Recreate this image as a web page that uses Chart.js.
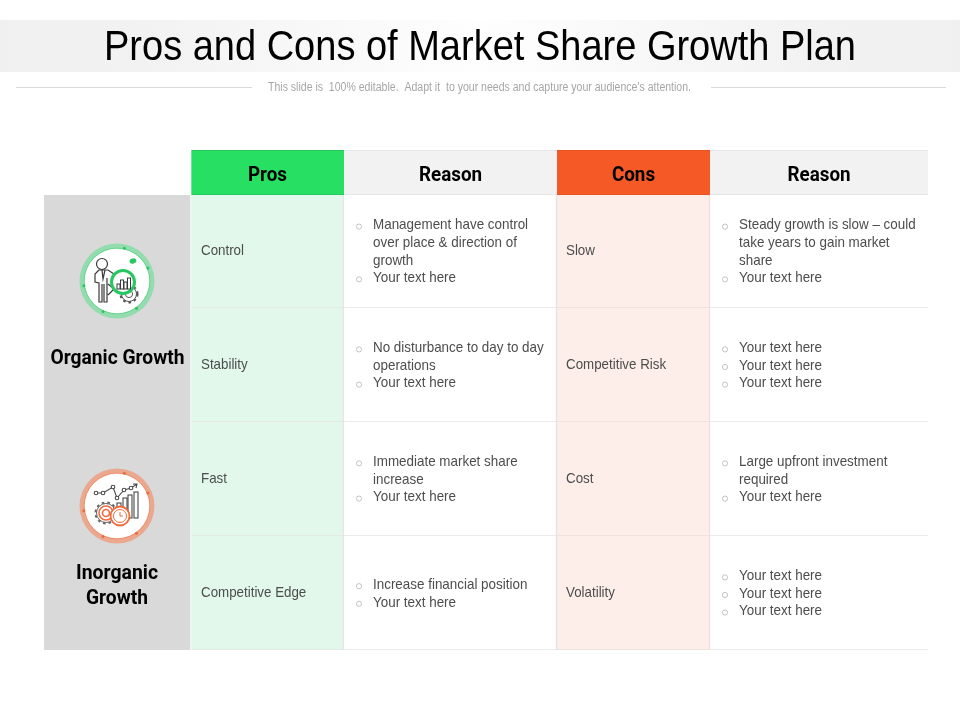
<!DOCTYPE html>
<html>
<head>
<meta charset="utf-8">
<title>Pros and Cons of Market Share Growth Plan</title>
<script src="https://cdn.jsdelivr.net/npm/chart.js@4/dist/chart.umd.min.js"></script>
<style>
    html, body { margin: 0; padding: 0; background: #fff; }
    #wrap { position: relative; width: 960px; height: 720px; overflow: hidden; }
    canvas { position: absolute; left: 0; top: 0; }
</style>
</head>
<body>
<div id="wrap">
    <canvas id="bodyCanvas" width="960" height="720"></canvas>
    <canvas id="headCanvas" width="960" height="720"></canvas>
</div>
<script>
const titleText = "Pros and Cons of Market Share Growth Plan";
const subtitleText = "This slide is  100% editable.  Adapt it  to your needs and capture your audience's attention.";

const headers = ["Pros", "Reason", "Cons", "Reason"];
const columnWidths = [147, 153, 213, 153, 218]; // the five table columns
const rowIds = [0, 1, 2, 3];

const prosLabels = ["Control", "Stability", "Fast", "Competitive Edge"];
const consLabels = ["Slow", "Competitive Risk", "Cost", "Volatility"];
const prosReasons = [
    ["Management have control", "over place & direction of", "growth", "Your text here"],
    ["No disturbance to day to day", "operations", "Your text here"],
    ["Immediate market share", "increase", "Your text here"],
    ["Increase financial position", "Your text here"]
];
const consReasons = [
    ["Steady growth is slow \u2013 could", "take years to gain market", "share", "Your text here"],
    ["Your text here", "Your text here", "Your text here"],
    ["Large upfront investment", "required", "Your text here"],
    ["Your text here", "Your text here", "Your text here"]
];
// which lines carry a bullet (the others continue the line above)
const prosBullets = [[1, 0, 0, 1], [1, 0, 1], [1, 0, 1], [1, 1]];
const consBullets = [[1, 0, 0, 1], [1, 1, 1], [1, 0, 1], [1, 1, 1]];

const bodyColors = ["#d9d9d9", "#e1f8ea", "#ffffff", "#fdeee9", "#ffffff"];
const bodyLines = ["#ffffff", "#e3e6e4", "#e3e3e3", "#ebe1de", "#e3e3e3"];
const headColors = ["#ffffff", "#27e063", "#f2f2f2", "#f55a26", "#f2f2f2"];
const headLines = ["#ffffff", "#22c45a", "#e2e2e2", "#e25222", "#e2e2e2"];

const sans = '"Liberation Sans", Arial, sans-serif';
const heavy = 'Roboto, "Liberation Sans", sans-serif';

function squeezed(ctx, text, x, y, squeeze) {
    ctx.fillText(text, x, y, ctx.measureText(text).width * squeeze);
}

function columnStart(scale, col) {
    let sum = 0;
    for (let i = 0; i < col; i++) sum += columnWidths[i];
    return scale.getPixelForValue(sum);
}

function gear(ctx, x, y, r, color) {
    ctx.strokeStyle = color;
    ctx.lineWidth = 1;
    ctx.beginPath();
    ctx.arc(x, y, r, 0, Math.PI * 2);
    ctx.stroke();
    ctx.setLineDash([2.6, 3]);
    ctx.lineWidth = 2;
    ctx.beginPath();
    ctx.arc(x, y, r + 1, 0, Math.PI * 2);
    ctx.stroke();
    ctx.setLineDash([]);
}

function badge(ctx, x, y, pale, strong) {
    ctx.fillStyle = pale;
    ctx.beginPath();
    ctx.arc(x, y, 37.5, 0, Math.PI * 2);
    ctx.fill();
    ctx.fillStyle = "#fff";
    ctx.beginPath();
    ctx.arc(x, y, 32.5, 0, Math.PI * 2);
    ctx.fill();
    ctx.strokeStyle = strong;
    ctx.lineWidth = 0.8;
    ctx.globalAlpha = 0.6;
    ctx.beginPath();
    ctx.arc(x, y, 32.8, 0, Math.PI * 2);
    ctx.stroke();
    ctx.globalAlpha = 1;
    ctx.fillStyle = strong;
    [-1.35, -0.4, 0.95, 2.0, 3.0].forEach(function (a) {
        ctx.beginPath();
        ctx.arc(x + Math.cos(a) * 33.5, y + Math.sin(a) * 33.5, 1.5, 0, Math.PI * 2);
        ctx.fill();
    });
}

function organicIcon(ctx, x, y) {
    const dark = "#3a3a3a", green = "#27c862";
    badge(ctx, x, y, "#93dcae", green);
    gear(ctx, x + 12, y + 13, 7.5, "#555");
    ctx.beginPath();
    ctx.arc(x + 12, y + 13, 3.6, 0, Math.PI * 2);
    ctx.lineWidth = 1;
    ctx.stroke();
    ctx.strokeStyle = dark;
    ctx.lineWidth = 1.2;
    // person
    ctx.beginPath();
    ctx.arc(x - 15, y - 17, 5.5, 0, Math.PI * 2);
    ctx.stroke();
    ctx.beginPath();
    ctx.moveTo(x - 18, y - 11);
    ctx.lineTo(x - 9, y - 11);
    ctx.lineTo(x - 3, y - 7);
    ctx.moveTo(x - 18, y - 11);
    ctx.lineTo(x - 22, y - 7);
    ctx.lineTo(x - 22, y + 1);
    ctx.lineTo(x - 18, y + 2);
    ctx.lineTo(x - 18, y + 21);
    ctx.lineTo(x - 15, y + 21);
    ctx.lineTo(x - 15, y + 3);
    ctx.moveTo(x - 13, y + 3);
    ctx.lineTo(x - 13, y + 21);
    ctx.lineTo(x - 10, y + 21);
    ctx.lineTo(x - 10, y - 3);
    ctx.moveTo(x - 9, y + 3);
    ctx.lineTo(x - 3, y + 8);
    ctx.moveTo(x - 9, y + 14);
    ctx.lineTo(x - 3, y + 8);
    ctx.moveTo(x - 15, y - 11);
    ctx.lineTo(x - 14, y - 2);
    ctx.lineTo(x - 12, y - 11);
    ctx.stroke();
    // magnifier with bars
    ctx.fillStyle = "#fff";
    ctx.beginPath();
    ctx.arc(x + 6, y + 1, 11.5, 0, Math.PI * 2);
    ctx.fill();
    ctx.strokeStyle = green;
    ctx.lineWidth = 3;
    ctx.stroke();
    ctx.strokeStyle = dark;
    ctx.lineWidth = 1;
    [[-6, 5], [-2.5, 9], [1, 7], [4.5, 11]].forEach(function (b) {
        ctx.strokeRect(x + 6 + b[0], y + 8 - b[1], 3, b[1]);
    });
    ctx.fillStyle = green;
    ctx.beginPath();
    ctx.ellipse(x + 16, y - 20, 3.5, 2.5, -0.3, 0, Math.PI * 2);
    ctx.fill();
}

function inorganicIcon(ctx, x, y) {
    const dark = "#4a4a4a", orange = "#ee6a3c";
    badge(ctx, x, y, "#eaa88f", orange);
    const trend = [[-21, -13], [-14, -13], [-4, -19], [0, -8], [7, -16], [14, -18], [20, -22]];
    ctx.strokeStyle = dark;
    ctx.lineWidth = 1.1;
    ctx.beginPath();
    trend.forEach(function (p, i) {
        if (i === 0) ctx.moveTo(x + p[0], y + p[1]);
        else ctx.lineTo(x + p[0], y + p[1]);
    });
    ctx.moveTo(x + 16, y - 22);
    ctx.lineTo(x + 20, y - 22);
    ctx.lineTo(x + 19, y - 18);
    ctx.stroke();
    ctx.fillStyle = "#fff";
    trend.slice(0, 6).forEach(function (p) {
        ctx.beginPath();
        ctx.arc(x + p[0], y + p[1], 1.8, 0, Math.PI * 2);
        ctx.fill();
        ctx.stroke();
    });
    [[0, -3], [6, -8], [11, -11], [17, -14]].forEach(function (b) {
        ctx.strokeRect(x + b[0], y + b[1], 4, 12 - b[1]);
    });
    gear(ctx, x - 11, y + 7, 9.5, "#666");
    ctx.strokeStyle = orange;
    ctx.lineWidth = 1.6;
    ctx.beginPath();
    ctx.arc(x - 11, y + 7, 7, 0, Math.PI * 2);
    ctx.stroke();
    ctx.beginPath();
    ctx.arc(x - 11, y + 7, 3.5, 0, Math.PI * 2);
    ctx.stroke();
    ctx.fillStyle = "#fff";
    ctx.beginPath();
    ctx.arc(x + 3, y + 10, 9.5, 0, Math.PI * 2);
    ctx.fill();
    ctx.lineWidth = 1.8;
    ctx.stroke();
    ctx.lineWidth = 1;
    ctx.beginPath();
    ctx.arc(x + 3, y + 10, 6.5, 0, Math.PI * 2);
    ctx.moveTo(x + 3, y + 6);
    ctx.lineTo(x + 3, y + 10);
    ctx.lineTo(x + 6, y + 10);
    ctx.stroke();
}

function drawBullets(ctx, x, y, lines, bullets) {
    lines.forEach(function (line, i) {
        const lineY = y + (i - (lines.length - 1) / 2) * 17.6;
        ctx.fillStyle = "#4d4d4d";
        ctx.textAlign = "left";
        squeezed(ctx, line, x + 29, lineY + 0.7, 0.925);
        if (bullets[i]) {
            ctx.strokeStyle = "#b5b5b5";
            ctx.lineWidth = 0.8;
            ctx.beginPath();
            ctx.arc(x + 15, lineY + 2, 2.6, 0, Math.PI * 2);
            ctx.stroke();
        }
    });
}

const titlePlugin = {
    id: "slideTitle",
    beforeDraw(chart) {
        const ctx = chart.ctx;
        const band = ctx.createLinearGradient(0, 0, 960, 0);
        band.addColorStop(0, "#f0f0f0");
        band.addColorStop(0.15, "#f2f2f2");
        band.addColorStop(0.5, "#fefefe");
        band.addColorStop(0.85, "#f2f2f2");
        band.addColorStop(1, "#f0f0f0");
        ctx.fillStyle = band;
        ctx.fillRect(0, 20, 960, 52);
        ctx.strokeStyle = "#d9d9d9";
        ctx.lineWidth = 1;
        ctx.beginPath();
        ctx.moveTo(16, 87.5);
        ctx.lineTo(252, 87.5);
        ctx.moveTo(711, 87.5);
        ctx.lineTo(946, 87.5);
        ctx.stroke();
    },
    afterDraw(chart) {
        const ctx = chart.ctx;
        const xs = chart.scales.x, ys = chart.scales.y;
        ctx.save();
        ctx.textAlign = "center";
        ctx.textBaseline = "middle";
        ctx.fillStyle = "#000";
        ctx.font = "42px " + sans;
        ctx.fillText(titleText, 480, 48, 752);
        ctx.fillStyle = "#a6a6a6";
        ctx.font = "12px " + sans;
        ctx.fillText(subtitleText, 479.5, 88, 423);
        ctx.fillStyle = "#000";
        ctx.font = "bold 20px " + heavy;
        headers.forEach(function (h, i) {
            const mid = (columnStart(xs, i + 1) + columnStart(xs, i + 2)) / 2;
            squeezed(ctx, h, mid, ys.getPixelForValue(0) + 3, 0.94);
        });
        // the group labels and icons sit on the grey column, drawn last so the header row never clips them
        ctx.restore();
    }
};

const cellPlugin = {
    id: "cellText",
    afterDraw(chart) {
        const ctx = chart.ctx;
        const xs = chart.scales.x, ys = chart.scales.y;
        ctx.save();
        ctx.textBaseline = "middle";
        ctx.font = "14.5px " + sans;
        rowIds.forEach(function (r) {
            const y = ys.getPixelForValue(r);
            ctx.textAlign = "left";
            ctx.fillStyle = "#4d4d4d";
            squeezed(ctx, prosLabels[r], columnStart(xs, 1) + 10, y, 0.92);
            squeezed(ctx, consLabels[r], columnStart(xs, 3) + 9, y, 0.92);
            drawBullets(ctx, columnStart(xs, 2), y, prosReasons[r], prosBullets[r]);
            drawBullets(ctx, columnStart(xs, 4), y, consReasons[r], consBullets[r]);
        });
        ctx.textAlign = "center";
        ctx.fillStyle = "#000";
        ctx.font = "bold 20px " + heavy;
        ctx.fillText("Organic Growth", 117.5, 359, 134);
        ctx.fillText("Inorganic", 117, 574, 82);
        ctx.fillText("Growth", 117, 599, 62);
        organicIcon(ctx, 117, 281);
        inorganicIcon(ctx, 117, 506);
        ctx.restore();
    }
};

function makeDatasets(rowCount, colors, lines, widths) {
    return columnWidths.map(function (w, col) {
        const values = [];
        for (let r = 0; r < rowCount; r++) values.push(w);
        return {
            data: values,
            backgroundColor: colors[col],
            borderColor: lines[col],
            borderWidth: widths(col),
            borderSkipped: false,
            categoryPercentage: 1,
            barPercentage: 1
        };
    });
}

function makeOptions(padding) {
    return {
        indexAxis: "y",
        responsive: false,
        animation: false,
        layout: { padding: padding },
        plugins: { legend: { display: false }, tooltip: { enabled: false }, title: { display: false } },
        scales: {
            x: { stacked: true, display: false, min: 0, max: 884 },
            y: { stacked: true, display: false }
        }
    };
}

new Chart(document.getElementById("bodyCanvas").getContext("2d"), {
    type: "bar",
    data: {
        labels: rowIds,
        datasets: makeDatasets(rowIds.length, bodyColors, bodyLines, function (col) {
            if (col === 0) return { top: 0, left: 0, right: 1, bottom: 0 };
            return { top: 0, left: 0, right: col === 4 ? 0 : 1.5, bottom: 1.2 };
        })
    },
    options: makeOptions({ left: 44, right: 32, top: 194, bottom: 70 }),
    plugins: [cellPlugin]
});

new Chart(document.getElementById("headCanvas").getContext("2d"), {
    type: "bar",
    data: {
        labels: ["header"],
        datasets: makeDatasets(1, headColors, headLines, function (col) {
            return col === 0 ? 0 : { top: 1, left: 0, right: 0, bottom: 1 };
        })
    },
    options: makeOptions({ left: 44, right: 32, top: 150, bottom: 525 }),
    plugins: [titlePlugin]
});
</script>
</body>
</html>
